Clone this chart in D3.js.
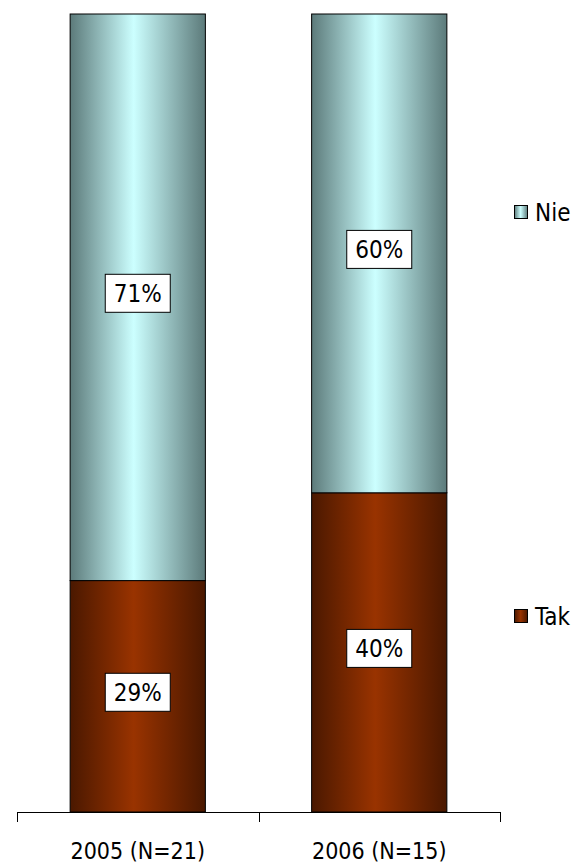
<!DOCTYPE html>
<html><head><meta charset="utf-8">
<script src="https://cdn.jsdelivr.net/npm/d3@7"></script>
<style>body{margin:0;background:#fff}svg{display:block}</style>
</head><body><svg id="c" width="583" height="867"></svg>
<script>
const categories = ["2005 (N=21)", "2006 (N=15)"];
const seriesNames = ["Tak", "Nie"];
const takValues = [29, 40];
const nieValues = [71, 60];
const labelsTak = ["29%", "40%"];
const labelsNie = ["71%", "60%"];

(function () {
const svg = d3.select("#c");
const font = "Tahoma, 'DejaVu Sans Condensed', 'DejaVu Sans', sans-serif";
const pLeft = 17, pRight = 500, pTop = 14, pBottom = 812;

const x = d3.scaleBand().domain(categories).range([pLeft, pRight]).paddingInner(0.44).paddingOuter(0.22);
const y = d3.scaleLinear().domain([0, 100]).range([pBottom, pTop]);

const defs = svg.append("defs");
function grad(id, edge, mid) {
  const g = defs.append("linearGradient").attr("id", id).attr("x1", "0%").attr("x2", "100%").attr("y1", "0").attr("y2", "0");
  const stops = [[0, edge], [0.47, mid], [1, edge]];
  stops.forEach(s => g.append("stop").attr("offset", s[0]).attr("stop-color", s[1]));
}
grad("gNie", "#5c7a7a", "#ccffff");
grad("gTak", "#4a1800", "#993300");

const data = categories.map((c, i) => ({cat: c, tak: takValues[i], nie: nieValues[i], lt: labelsTak[i], ln: labelsNie[i]}));

const g = svg.append("g");
data.forEach(d => {
  const bx = x(d.cat), bw = x.bandwidth();
  g.append("rect").attr("x", bx).attr("y", y(d.tak)).attr("width", bw).attr("height", y(0) - y(d.tak))
    .attr("fill", "url(#gTak)").attr("stroke", "#000").attr("stroke-width", 1);
  g.append("rect").attr("x", bx).attr("y", y(d.tak + d.nie)).attr("width", bw).attr("height", y(d.tak) - y(d.tak + d.nie))
    .attr("fill", "url(#gNie)").attr("stroke", "#000").attr("stroke-width", 1);
  [[d.lt, (y(0) + y(d.tak)) / 2], [d.ln, (y(d.tak) + y(d.tak + d.nie)) / 2]].forEach(([t, cy]) => {
    const cx = bx + bw / 2;
    const bwid = 65, bh = 38;
    g.append("rect").attr("x", cx - bwid / 2).attr("y", cy - bh / 2 - 4).attr("width", bwid).attr("height", bh)
      .attr("fill", "#fff").attr("stroke", "#000").attr("stroke-width", 1);
    g.append("text").attr("x", cx).attr("y", cy - 4).attr("dy", "0.36em").attr("text-anchor", "middle")
      .attr("font-family", font).attr("font-size", 24).attr("fill", "#000").text(t);
  });
});

const ax = svg.append("g");
ax.append("line").attr("x1", pLeft).attr("x2", pRight).attr("y1", pBottom + 0.5).attr("y2", pBottom + 0.5).attr("stroke", "#000");
const tickXs = [pLeft].concat(categories.map(c => x(c) + x.bandwidth() / 2 + x.step() / 2));
tickXs.forEach(tx => {
  const xx = Math.round(tx) + 0.5;
  ax.append("line").attr("x1", xx).attr("x2", xx).attr("y1", pBottom).attr("y2", pBottom + 10).attr("stroke", "#000");
});
categories.forEach(c => {
  ax.append("text").attr("x", x(c) + x.bandwidth() / 2).attr("y", 859).attr("text-anchor", "middle")
    .attr("font-family", font).attr("font-size", 23).attr("fill", "#000").text(c);
});

const legend = [["Nie", "url(#gNie)", 212], ["Tak", "url(#gTak)", 616]];
legend.forEach(([t, f, ly]) => {
  svg.append("rect").attr("x", 514.5).attr("y", ly - 6.5).attr("width", 13).attr("height", 13)
    .attr("fill", f).attr("stroke", "#000").attr("stroke-width", 1);
  svg.append("text").attr("x", 535).attr("y", ly).attr("dy", "0.36em").attr("font-family", font)
    .attr("font-size", 24).attr("fill", "#000").text(t);
});
})();
</script></body></html>
